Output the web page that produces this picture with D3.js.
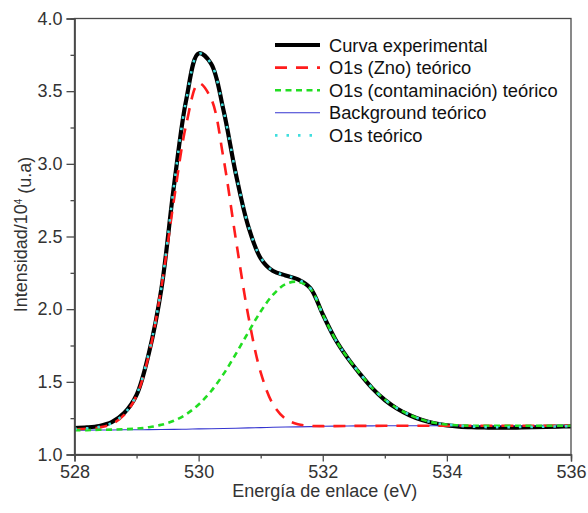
<!DOCTYPE html>
<html>
<head>
<meta charset="utf-8">
<script src="https://cdn.jsdelivr.net/npm/d3@7/dist/d3.min.js"></script>
<style>
  html, body { margin: 0; padding: 0; background: #fff; }
  svg { display: block; font-family: "Liberation Sans", Arial, sans-serif; }
</style>
</head>
<body>
<svg id="chart" width="588" height="513"></svg>
<script>
// ---- data ----
const energy = [528.0,528.2,528.4,528.6,528.8,529.0,529.2,529.4,529.6,529.8,
                530.0,530.2,530.4,530.6,530.8,531.0,531.2,531.4,531.6,531.8,
                532.0,532.2,532.4,532.6,532.8,533.0,533.2,533.4,533.6,533.8,
                534.0,534.2,534.4,534.6,534.8,535.0,535.2,535.4,535.6,535.8,536.0];

const experimental = [1.182,1.186,1.196,1.222,1.285,1.410,1.700,2.14,2.84,3.44,
                      3.76,3.69,3.37,2.93,2.57,2.35,2.262,2.232,2.205,2.145,
                      1.965,1.795,1.665,1.555,1.455,1.375,1.315,1.27,1.237,1.214,
                      1.200,1.192,1.188,1.186,1.185,1.185,1.186,1.188,1.190,1.192,1.194];

const znoPeak = [1.172,1.177,1.186,1.210,1.272,1.405,1.690,2.15,2.745,3.27,
                 3.555,3.45,3.04,2.48,1.955,1.565,1.345,1.245,1.208,1.197,
                 1.195,1.195,1.196,1.197,1.197,1.198,1.198,1.198,1.198,1.198,
                 1.198,1.198,1.198,1.198,1.198,1.198,1.198,1.198,1.198,1.198,1.198];

const contamPeak = [1.168,1.168,1.170,1.171,1.174,1.178,1.188,1.204,1.232,1.277,
                    1.344,1.435,1.553,1.692,1.841,1.984,2.100,2.172,2.188,2.142,
                    1.964,1.795,1.666,1.557,1.457,1.378,1.318,1.273,1.240,1.218,
                    1.206,1.201,1.198,1.198,1.198,1.198,1.198,1.198,1.198,1.198,1.198];

const background = [1.168,1.168,1.169,1.169,1.170,1.170,1.171,1.172,1.173,1.174,
                    1.176,1.177,1.179,1.181,1.183,1.185,1.187,1.189,1.190,1.192,
                    1.194,1.195,1.196,1.197,1.197,1.198,1.198,1.198,1.198,1.198,
                    1.198,1.198,1.198,1.198,1.198,1.198,1.198,1.198,1.198,1.198,1.198];

const fitTotal = [1.176,1.180,1.190,1.216,1.280,1.412,1.705,2.15,2.84,3.44,
                  3.76,3.69,3.37,2.935,2.575,2.355,2.262,2.232,2.205,2.145,
                  1.965,1.795,1.666,1.557,1.457,1.378,1.318,1.273,1.240,1.218,
                  1.206,1.198,1.192,1.189,1.188,1.188,1.189,1.190,1.191,1.193,1.195];

const xTicks = [528, 530, 532, 534, 536];
const xMinorTicks = [529, 531, 533, 535];
const yTicks = [1.0, 1.5, 2.0, 2.5, 3.0, 3.5, 4.0];
const yMinorTicks = [1.25, 1.75, 2.25, 2.75, 3.25, 3.75];

const legendLabels = ["Curva experimental", "O1s (Zno) teórico", "O1s (contaminación) teórico",
                      "Background teórico", "O1s teórico"];

// ---- drawing ----
(function () {
const svg = d3.select("#chart");
const mLeft = 74.5, mRight = 571, mTop = 18.5, mBottom = 454.5;

const x = d3.scaleLinear().domain([528, 536]).range([mLeft, mRight]);
const y = d3.scaleLinear().domain([1, 4]).range([mBottom, mTop]);

const axisColor = "#4a4a4a";
const textColor = "#333";

const styles = {
  experimental: {color: "#000000", width: 4.2, dash: null},
  zno: {color: "#ff1c1c", width: 2.6, dash: "12,9"},
  contam: {color: "#22dd22", width: 2.6, dash: "6,4.5"},
  background: {color: "#3535d0", width: 1.1, dash: null},
  fit: {color: "#3fdede", width: 2.6, dash: "2.5,9"}
};

const line = (vals) => d3.line()
  .x((d, i) => x(energy[i]))
  .y(d => y(d))
  .curve(d3.curveCatmullRom.alpha(0.5))(vals);

const plot = svg.append("g");

function drawSeries(vals, st) {
  const p = plot.append("path")
    .attr("d", line(vals))
    .attr("fill", "none")
    .attr("stroke", st.color)
    .attr("stroke-width", st.width)
    .attr("stroke-linejoin", "round");
  if (st.dash) p.attr("stroke-dasharray", st.dash);
  return p;
}

drawSeries(experimental, styles.experimental);
drawSeries(background, styles.background);
drawSeries(znoPeak, styles.zno);
drawSeries(contamPeak, styles.contam);
drawSeries(fitTotal, styles.fit);

svg.append("rect")
  .attr("x", mLeft).attr("y", mTop)
  .attr("width", mRight - mLeft).attr("height", mBottom - mTop)
  .attr("fill", "none").attr("stroke", axisColor).attr("stroke-width", 1.3);

const fontSize = 18;
const xAxis = svg.append("g").attr("transform", `translate(0,${mBottom})`)
  .call(d3.axisBottom(x).tickValues(xTicks).tickFormat(d3.format("d")).tickSize(7).tickPadding(4));
const xMinor = svg.append("g").attr("transform", `translate(0,${mBottom})`)
  .call(d3.axisBottom(x).tickValues(xMinorTicks).tickFormat("").tickSize(4));
const yAxis = svg.append("g").attr("transform", `translate(${mLeft},0)`)
  .call(d3.axisLeft(y).tickValues(yTicks).tickFormat(d3.format(".1f")).tickSize(8).tickPadding(4));
const yMinor = svg.append("g").attr("transform", `translate(${mLeft},0)`)
  .call(d3.axisLeft(y).tickValues(yMinorTicks).tickFormat("").tickSize(4));

[xAxis, xMinor, yAxis, yMinor].forEach(g => {
  g.select(".domain").attr("stroke", axisColor).attr("stroke-width", 1.3);
  g.selectAll(".tick line").attr("stroke", axisColor).attr("stroke-width", 1.3);
  g.selectAll(".tick text").attr("fill", textColor)
    .style("font-size", fontSize + "px")
    .style("font-family", "'Liberation Sans', Arial, sans-serif");
});

svg.append("text")
  .attr("x", (mLeft + mRight) / 2 + 2).attr("y", 497)
  .attr("text-anchor", "middle")
  .attr("fill", textColor)
  .style("font-size", "18px")
  .text("Energía de enlace (eV)");

const yt = svg.append("text")
  .attr("transform", `translate(27,${(mTop + mBottom) / 2 - 2}) rotate(-90)`)
  .attr("text-anchor", "middle")
  .attr("fill", textColor)
  .style("font-size", "18px");
yt.append("tspan").text("Intensidad/10");
yt.append("tspan").attr("dy", "-0.5em").style("font-size", "10px").text("4");
yt.append("tspan").attr("dy", "0.5em").text(" (u.a)");

const legendStyles = [styles.experimental, styles.zno, styles.contam, styles.background, styles.fit];
const legend = svg.append("g");
legendLabels.forEach((lab, i) => {
  const cy = 45 + i * 22.6;
  const st = legendStyles[i];
  const l = legend.append("line")
    .attr("x1", 275).attr("x2", 320)
    .attr("y1", cy).attr("y2", cy)
    .attr("stroke", st.color).attr("stroke-width", st.width);
  if (st.dash) l.attr("stroke-dasharray", st.dash);
  legend.append("text")
    .attr("x", 329).attr("y", cy)
    .attr("dy", "0.36em")
    .attr("fill", "#111")
    .style("font-size", "18.3px")
    .text(lab);
});
})();
</script>
</body>
</html>
